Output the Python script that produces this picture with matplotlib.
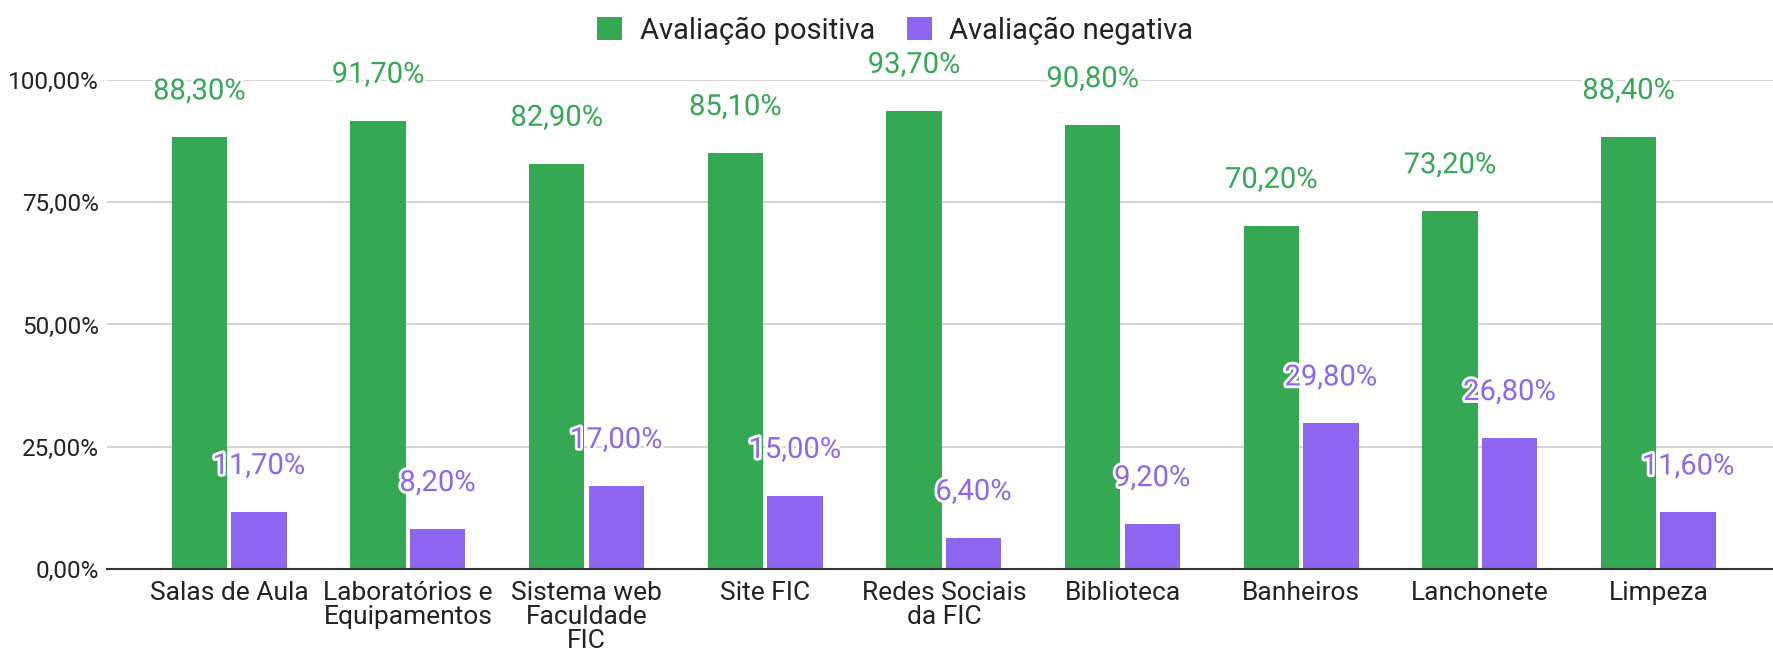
import numpy as np
import matplotlib
matplotlib.use('Agg')
import matplotlib.pyplot as plt
import matplotlib.patheffects as pe
from matplotlib.ticker import FuncFormatter

# DATA
categorias = ['Salas de Aula', 'Laboratórios e\nEquipamentos', 'Sistema web\nFaculdade\nFIC',
              'Site FIC', 'Redes Sociais\nda FIC', 'Biblioteca', 'Banheiros',
              'Lanchonete', 'Limpeza']
positiva = [88.3, 91.7, 82.9, 85.1, 93.7, 90.8, 70.2, 73.2, 88.4]
negativa = [11.7, 8.2, 17.0, 15.0, 6.4, 9.2, 29.8, 26.8, 11.6]
series = ['Avaliação positiva', 'Avaliação negativa']

VERDE = '#34a853'
ROXO = '#8c66f0'

plt.rcParams['font.family'] = ['Roboto', 'DejaVu Sans']

def pct(v):
    return f'{v:.2f}%'.replace('.', ',')

fig = plt.figure(figsize=(17.73, 6.59), dpi=100)
ax = fig.add_axes([0.0605, 0.1366, 0.9395, 0.742])

x = np.arange(len(categorias))
w = 0.31
b1 = ax.bar(x - 0.168, positiva, w, color=VERDE, label=series[0], zorder=3)
b2 = ax.bar(x + 0.165, negativa, w, color=ROXO, label=series[1], zorder=3)

stroke = [pe.withStroke(linewidth=4, foreground='white')]
for rect, v in zip(b1, positiva):
    ax.annotate(pct(v), (rect.get_x() + rect.get_width() / 2, v),
                xytext=(0, 33), textcoords='offset points', ha='center', va='center',
                fontsize=21, color=VERDE, clip_on=False, zorder=4, path_effects=stroke)
for rect, v in zip(b2, negativa):
    ax.annotate(pct(v), (rect.get_x() + rect.get_width() / 2, v),
                xytext=(0, 33), textcoords='offset points', ha='center', va='center',
                fontsize=21, color=ROXO, clip_on=False, zorder=4, path_effects=stroke)

ax.set_xlim(-0.684, 8.64)
ax.set_ylim(0, 100)
ax.set_yticks([0, 25, 50, 75, 100])
ax.yaxis.set_major_formatter(FuncFormatter(lambda v, p: pct(v)))
ax.set_xticks(x)
ax.set_xticklabels(categorias, fontsize=19, color='#222222', linespacing=1.0, va='top')
ax.tick_params(axis='y', labelsize=17.5, colors='#222222', length=0, pad=6)
ax.tick_params(axis='x', length=0, pad=9)
ax.grid(axis='y', color='#cccccc', linewidth=1.2, zorder=0)
for s in ['top', 'right', 'left']:
    ax.spines[s].set_visible(False)
ax.spines['bottom'].set_color('#333333')
ax.spines['bottom'].set_linewidth(1.5)
ax.spines['bottom'].set_zorder(5)

fig.legend(loc='upper center', bbox_to_anchor=(0.505, 1.015), ncol=2, frameon=False,
           fontsize=21, handlelength=0.85, handleheight=0.85, handletextpad=0.6,
           columnspacing=1.1, labelcolor='#222222')

fig.savefig('out.png', dpi=100)
